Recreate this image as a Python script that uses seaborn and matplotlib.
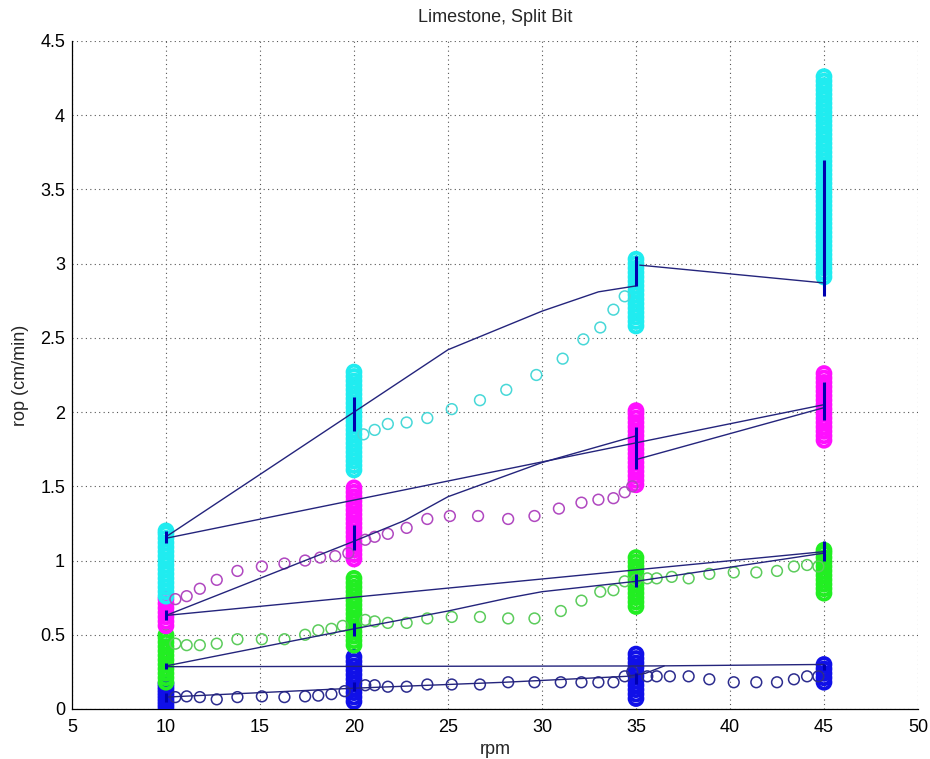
import numpy as np
import pandas as pd
import matplotlib
matplotlib.use("Agg")
import matplotlib.pyplot as plt
import seaborn as sns

# rpm dove sono state fatte le misure stazionarie
rpm_levels = [10, 20, 35, 45]

# nuvole verticali di rop a ogni rpm (una lista per rpm, stesso ordine di rpm_levels)
blue_cols = [
    [0.01, 0.03, 0.05, 0.07, 0.09, 0.11, 0.13, 0.15, 0.17],
    [0.05, 0.08, 0.11, 0.14, 0.17, 0.20, 0.23, 0.26, 0.29, 0.32, 0.35],
    [0.07, 0.10, 0.13, 0.16, 0.19, 0.22, 0.25, 0.28, 0.31, 0.34, 0.37],
    [0.18, 0.21, 0.24, 0.27, 0.30],
]
green_cols = [
    [0.18, 0.21, 0.24, 0.27, 0.30, 0.33, 0.36, 0.39, 0.42, 0.45, 0.48, 0.50],
    [0.43, 0.46, 0.49, 0.52, 0.55, 0.58, 0.61, 0.64, 0.67, 0.70, 0.73, 0.76, 0.79, 0.82, 0.85, 0.88],
    [0.69, 0.72, 0.75, 0.78, 0.81, 0.84, 0.87, 0.90, 0.93, 0.96, 0.99, 1.02],
    [0.78, 0.81, 0.84, 0.87, 0.90, 0.93, 0.96, 0.99, 1.02, 1.05, 1.07],
]
magenta_cols = [
    [0.56, 0.59, 0.62, 0.65, 0.68, 0.71, 0.74],
    [1.01, 1.04, 1.07, 1.10, 1.13, 1.16, 1.19, 1.22, 1.25, 1.28, 1.31, 1.34, 1.37, 1.40, 1.43, 1.46, 1.49],
    [1.51, 1.54, 1.57, 1.60, 1.63, 1.66, 1.69, 1.72, 1.75, 1.78, 1.81, 1.84, 1.87, 1.90, 1.93, 1.96, 1.99, 2.01],
    [1.81, 1.84, 1.87, 1.90, 1.93, 1.96, 1.99, 2.02, 2.05, 2.08, 2.11, 2.14, 2.17, 2.20, 2.23, 2.26],
]
cyan_cols = [
    [0.76, 0.79, 0.82, 0.85, 0.88, 0.91, 0.94, 0.97, 1.00, 1.03, 1.06, 1.09, 1.12, 1.15, 1.18, 1.20],
    [1.61, 1.64, 1.67, 1.70, 1.73, 1.76, 1.79, 1.82, 1.85, 1.88, 1.91, 1.94, 1.97, 2.00, 2.03, 2.06,
     2.09, 2.12, 2.15, 2.18, 2.21, 2.24, 2.27],
    [2.58, 2.61, 2.64, 2.67, 2.70, 2.73, 2.76, 2.79, 2.82, 2.85, 2.88, 2.91, 2.94, 2.97, 3.00, 3.03],
    [2.91, 2.94, 2.97, 3.00, 3.03, 3.06, 3.09, 3.12, 3.15, 3.18, 3.21, 3.24, 3.27, 3.30, 3.33, 3.36,
     3.39, 3.42, 3.45, 3.48, 3.51, 3.54, 3.57, 3.60, 3.63, 3.66, 3.69, 3.72, 3.75, 3.78, 3.81, 3.84,
     3.87, 3.90, 3.93, 3.96, 3.99, 4.02, 4.05, 4.08, 4.11, 4.14, 4.17, 4.20, 4.23, 4.26],
]

# punti di transizione tra un rpm e l'altro
blue_tr_x = [10.5, 11.1, 11.8, 12.7, 13.8, 15.1, 16.3, 17.4, 18.1, 18.8, 19.5, 20.6, 21.1, 21.8, 22.8,
             23.9, 25.2, 26.7, 28.2, 29.6, 31.0, 32.1, 33.0, 33.8, 34.4, 34.8, 35.6, 36.1, 36.8, 37.8,
             38.9, 40.2, 41.4, 42.5, 43.4, 44.1, 44.7]
blue_tr_y = [0.08, 0.085, 0.08, 0.065, 0.08, 0.085, 0.08, 0.085, 0.09, 0.10, 0.12, 0.16, 0.16, 0.15, 0.15,
             0.165, 0.165, 0.165, 0.18, 0.18, 0.18, 0.18, 0.18, 0.18, 0.22, 0.25, 0.22, 0.22, 0.22, 0.22,
             0.20, 0.18, 0.18, 0.18, 0.20, 0.22, 0.22]
green_tr_x = [10.5, 11.1, 11.8, 12.7, 13.8, 15.1, 16.3, 17.4, 18.1, 18.8, 19.4, 20.6, 21.1, 21.8, 22.8,
              23.9, 25.2, 26.7, 28.2, 29.6, 31.0, 32.1, 33.1, 33.8, 34.4, 35.0, 35.6, 36.1, 36.9, 37.8,
              38.9, 40.2, 41.4, 42.5, 43.4, 44.1, 44.7]
green_tr_y = [0.44, 0.43, 0.43, 0.44, 0.47, 0.47, 0.47, 0.50, 0.53, 0.54, 0.56, 0.60, 0.59, 0.58, 0.58,
              0.61, 0.62, 0.62, 0.61, 0.61, 0.66, 0.73, 0.79, 0.80, 0.86, 0.87, 0.88, 0.88, 0.89, 0.88,
              0.91, 0.92, 0.92, 0.93, 0.96, 0.97, 0.96]
magenta_tr_x = [10.5, 11.1, 11.8, 12.7, 13.8, 15.1, 16.3, 17.4, 18.2, 19.0, 19.7, 20.6, 21.1, 21.8, 22.8,
                23.9, 25.1, 26.6, 28.2, 29.6, 30.9, 32.1, 33.0, 33.8, 34.4, 34.8]
magenta_tr_y = [0.74, 0.76, 0.81, 0.87, 0.93, 0.96, 0.98, 1.00, 1.02, 1.03, 1.05, 1.14, 1.16, 1.18, 1.22,
                1.28, 1.30, 1.30, 1.28, 1.30, 1.35, 1.39, 1.41, 1.42, 1.46, 1.50]
cyan_tr_x = [20.5, 21.1, 21.8, 22.8, 23.9, 25.2, 26.7, 28.1, 29.7, 31.1, 32.2, 33.1, 33.8, 34.4]
cyan_tr_y = [1.85, 1.88, 1.92, 1.93, 1.96, 2.02, 2.08, 2.15, 2.25, 2.36, 2.49, 2.57, 2.69, 2.78]

# linee di collegamento tra le medie
line_x = [
    [10, 20, 25, 30, 33, 35],
    [35.2, 45],
    [10, 45],
    [10, 20, 22.7, 25, 30, 35],
    [35, 45],
    [10, 45],
    [10, 20, 25, 28.3, 30, 35, 45],
    [10, 36, 45],
    [10, 20, 28, 34.5, 35.5, 36.5],
]
line_y = [
    [1.16, 2.0, 2.42, 2.68, 2.81, 2.85],
    [2.99, 2.87],
    [1.15, 2.05],
    [0.63, 1.13, 1.27, 1.43, 1.66, 1.84],
    [1.68, 2.03],
    [0.63, 1.06],
    [0.29, 0.54, 0.66, 0.75, 0.79, 0.86, 1.05],
    [0.285, 0.29, 0.30],
    [0.08, 0.14, 0.18, 0.22, 0.24, 0.29],
]

# barrette verticali (dispersione delle medie)
bar_x = [10, 10, 10, 10, 20, 20, 20, 20, 35, 35, 35, 35, 45, 45, 45, 45]
bar_lo = [1.12, 0.60, 0.27, 0.05, 1.87, 1.07, 0.49, 0.12, 2.85, 1.62, 0.82, 0.17, 2.78, 1.95, 1.00, 0.26]
bar_hi = [1.20, 0.67, 0.31, 0.11, 2.10, 1.24, 0.58, 0.18, 3.05, 1.90, 0.91, 0.24, 3.70, 2.20, 1.13, 0.30]

x_ticks = [5, 10, 15, 20, 25, 30, 35, 40, 45, 50]
y_ticks = [0, 0.5, 1, 1.5, 2, 2.5, 3, 3.5, 4, 4.5]
y_tick_labels = ["0", "0.5", "1", "1.5", "2", "2.5", "3", "3.5", "4", "4.5"]

sns.set_style("white")
plt.rcParams["font.family"] = ["Liberation Sans", "DejaVu Sans"]

fig = plt.figure(figsize=(9.3, 7.59), dpi=100)
ax = fig.add_axes([0.0774, 0.0659, 0.9097, 0.8801])

# colonne verticali (cerchi fitti, quasi pieni)
col_colors = ["#1010e8", "#22ee22", "#ff10ff", "#20ecf0"]
for cols, c in zip([blue_cols, green_cols, magenta_cols, cyan_cols], col_colors):
    xs, ys = [], []
    for r, vals in zip(rpm_levels, cols):
        xs += [r] * len(vals)
        ys += vals
    df = pd.DataFrame({"rpm": xs, "rop": ys})
    sns.scatterplot(data=df, x="rpm", y="rop", marker="o", s=85, color=c, facecolor="none",
                    edgecolor=c, linewidth=2.8, ax=ax, legend=False, zorder=3)

# cerchi di transizione
tr_colors = ["#2c2c8e", "#5ccc5c", "#b048c0", "#48d8d8"]
for tx, ty, c in zip([blue_tr_x, green_tr_x, magenta_tr_x, cyan_tr_x],
                     [blue_tr_y, green_tr_y, magenta_tr_y, cyan_tr_y], tr_colors):
    df = pd.DataFrame({"rpm": tx, "rop": ty})
    sns.scatterplot(data=df, x="rpm", y="rop", marker="o", s=60, color=c, facecolor="none",
                    edgecolor=c, linewidth=1.1, ax=ax, legend=False, zorder=3)

# linee
for lx, ly in zip(line_x, line_y):
    sns.lineplot(x=lx, y=ly, sort=False, estimator=None, color="#24247c", linewidth=1.0,
                 ax=ax, zorder=4)

ax.vlines(bar_x, bar_lo, bar_hi, colors="#0000b0", linewidth=2.2, zorder=5)

ax.set_xlim(5, 50)
ax.set_ylim(0, 4.5)
ax.set_xticks(x_ticks)
ax.set_yticks(y_ticks)
ax.set_yticklabels(y_tick_labels)
ax.grid(True, color="#555555", linestyle=(0, (1, 3)), linewidth=0.8)
ax.set_axisbelow(True)
for side in ["top", "right"]:
    ax.spines[side].set_visible(False)
for side in ["left", "bottom"]:
    ax.spines[side].set_color("black")
    ax.spines[side].set_linewidth(0.9)
ax.tick_params(direction="in", length=6, width=0.9, labelsize=13, colors="black", pad=7)
ax.tick_params(axis="y", pad=5)

ax.set_title("Limestone, Split Bit", fontsize=13, pad=14)
ax.set_xlabel("rpm", fontsize=13, labelpad=4)
ax.set_ylabel("rop (cm/min)", fontsize=13, labelpad=8)

fig.savefig("out.png", dpi=100)
